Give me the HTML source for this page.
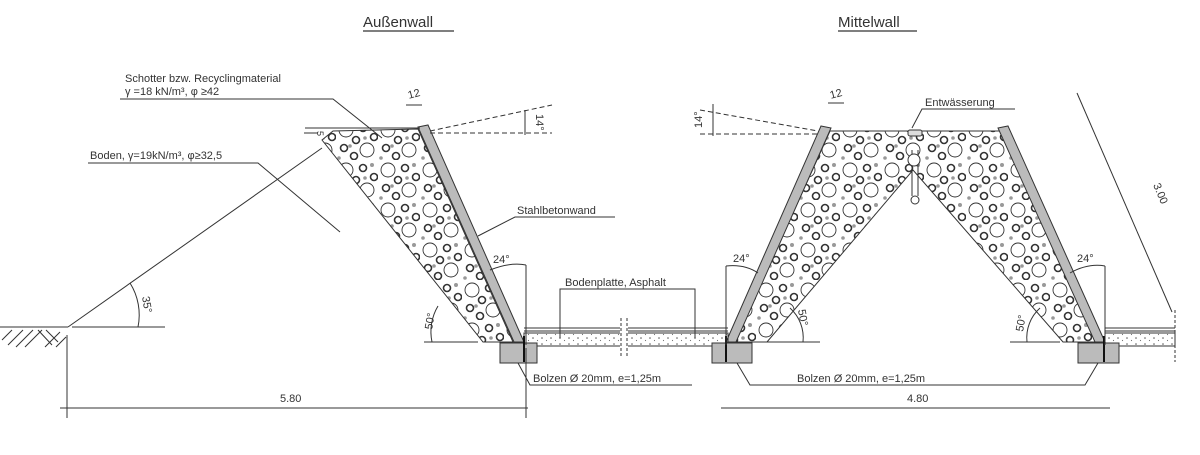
<!DOCTYPE html>
<html><head><meta charset="utf-8"><style>
html,body{margin:0;padding:0;background:#fff;width:1200px;height:455px;overflow:hidden}
svg{display:block}
text{font-family:"Liberation Sans",sans-serif;fill:#333}
.t{font-size:11px}
</style></head><body>
<svg width="1200" height="455" viewBox="0 0 1200 455" xmlns="http://www.w3.org/2000/svg">
<defs>
<pattern id="dots" width="9" height="6" patternUnits="userSpaceOnUse">
<circle cx="2" cy="2" r="0.8" fill="#555"/><circle cx="6.5" cy="4.5" r="0.6" fill="#777"/>
</pattern>
<pattern id="grav" width="42" height="40" patternUnits="userSpaceOnUse">
<g fill="none" stroke="#333">
<circle cx="10" cy="10" r="7" stroke-width="0.9"/>
<circle cx="31" cy="30" r="7" stroke-width="0.9"/>
<circle cx="27" cy="8" r="3.5" stroke-width="1.6"/>
<circle cx="8" cy="28" r="3.5" stroke-width="1.6"/>
<circle cx="20" cy="20" r="3.5" stroke-width="1.6"/>
<circle cx="38" cy="17" r="3.5" stroke-width="1.6"/>
<circle cx="18" cy="36" r="3.5" stroke-width="1.6"/>
</g>
<g fill="#999">
<circle cx="36" cy="5" r="2"/><circle cx="14" cy="26" r="1.8"/><circle cx="29" cy="18" r="1.8"/><circle cx="3" cy="38" r="1.8"/>
</g>
</pattern>
</defs>
<text x="363" y="27" style="font-size:15px">Außenwall</text>
<line x1="363" y1="31" x2="454" y2="31" stroke="#333" stroke-width="1.2"/>
<text x="838" y="27" style="font-size:15px">Mittelwall</text>
<line x1="838" y1="31" x2="917" y2="31" stroke="#333" stroke-width="1.2"/>

<!-- fills -->
<polygon points="322,140 333,131 418,129 513,342 483,342" fill="url(#grav)" stroke="#333" stroke-width="1"/>
<polygon points="830,131 1000,131 1096,342 1063,342 913,170 767,342 735,342" fill="url(#grav)" stroke="#333" stroke-width="1"/>

<!-- walls -->
<polygon points="418,127 428,125 524,342 514,342" fill="#bbb" stroke="#333"/>
<polygon points="821,126 831,128 736,342 726,342" fill="#bbb" stroke="#333"/>
<polygon points="998,128 1008,126 1105,342 1095,342" fill="#bbb" stroke="#333"/>

<!-- slabs -->
<g stroke="#333" fill="none">
<line x1="524" y1="328" x2="728" y2="328"/><line x1="524" y1="331" x2="728" y2="331"/>
<line x1="1105" y1="328" x2="1175" y2="328"/><line x1="1105" y1="331" x2="1175" y2="331"/>
</g>
<rect x="524" y="333" width="204" height="13" fill="url(#dots)" stroke="#333"/>
<rect x="1105" y="333" width="70" height="13" fill="url(#dots)" stroke="#333"/>
<rect x="620" y="318" width="8" height="40" fill="#fff"/>
<g stroke="#333" stroke-dasharray="3,2"><line x1="621" y1="318" x2="621" y2="358"/><line x1="627" y1="318" x2="627" y2="358"/><line x1="1175" y1="310" x2="1175" y2="362"/></g>

<!-- footings -->
<rect x="500" y="343" width="37" height="20" fill="#bbb" stroke="#333"/>
<rect x="712" y="343" width="40" height="20" fill="#bbb" stroke="#333"/>
<rect x="1078" y="343" width="41" height="20" fill="#bbb" stroke="#333"/>
<g stroke="#111" stroke-width="2"><line x1="524" y1="336" x2="524" y2="362"/><line x1="726" y1="336" x2="726" y2="362"/><line x1="1104" y1="336" x2="1104" y2="362"/></g>

<g stroke="#333" fill="none" stroke-width="1">
<line x1="0" y1="327" x2="68" y2="327"/>
<line x1="68" y1="327" x2="322" y2="148"/>
<line x1="72" y1="327" x2="165" y2="327"/>
<path d="M2,340 L12,330 M8,345 L23,330 M16,347 L33,330 M25,347 L42,330 M45,347 L60,332 M56,347 L66,337 M38,330 L52,345 M46,330 L58,342"/>
<path d="M130,283 A60,60 0 0 1 138,327"/>
<line x1="305" y1="128" x2="420" y2="128"/>
<polyline points="120,99 333,99 382,138"/>
<polyline points="88,163 258,163 340,232"/>
<polyline points="615,217 515,217 478,236"/>
<polyline points="695,338 695,289 560,289 560,338"/>
<polyline points="518,363 530,385 692,385"/>
<polyline points="737,363 750,385 1085,385 1098,363"/>
<polyline points="912,128 922,109 1015,109"/>
<g stroke-dasharray="5,3">
<line x1="430" y1="131" x2="552" y2="105"/><line x1="430" y1="133" x2="552" y2="133"/>
<line x1="700" y1="110" x2="818" y2="131"/><line x1="700" y1="134" x2="818" y2="134"/>
</g>
<line x1="525" y1="110" x2="525" y2="135"/>
<line x1="713" y1="104" x2="713" y2="136"/>
<line x1="526" y1="345" x2="526" y2="265"/><path d="M490,270 Q510,262 526,265"/>
<line x1="424" y1="342" x2="478" y2="342"/><path d="M438,306 A50,50 0 0 0 432,342"/>
<line x1="726" y1="345" x2="726" y2="266"/><path d="M726,266 Q745,264 758,273"/>
<line x1="765" y1="342" x2="820" y2="342"/><path d="M790,308 A40,40 0 0 1 803,342"/>
<line x1="1105" y1="345" x2="1105" y2="266"/><path d="M1070,273 Q1088,263 1105,266"/>
<line x1="1010" y1="342" x2="1060" y2="342"/><path d="M1040,308 A40,40 0 0 0 1027,342"/>
<rect x="908" y="130" width="14" height="6" rx="2" fill="#ddd"/>
<line x1="912" y1="150" x2="912" y2="196"/><line x1="918" y1="150" x2="918" y2="196"/>
<circle cx="915" cy="200" r="4" fill="#fff"/><circle cx="914" cy="160" r="6" fill="#fff"/>
<line x1="67" y1="335" x2="67" y2="418"/>
<line x1="60" y1="408" x2="528" y2="408"/>
<line x1="526" y1="348" x2="526" y2="418"/>
<line x1="721" y1="408" x2="1110" y2="408"/>
<line x1="1077" y1="93" x2="1172" y2="312"/>
<line x1="406" y1="105" x2="422" y2="105"/>
<line x1="828" y1="103" x2="844" y2="103"/>
<line x1="304" y1="133" x2="318" y2="133"/>
</g>

<text class="t" x="125" y="82">Schotter bzw. Recyclingmaterial</text>
<text class="t" x="125" y="95">γ =18 kN/m³, φ ≥42</text>
<text class="t" x="90" y="159">Boden, γ=19kN/m³, φ≥32,5</text>
<text class="t" x="517" y="214">Stahlbetonwand</text>
<text class="t" x="565" y="286">Bodenplatte, Asphalt</text>
<text class="t" x="533" y="382">Bolzen Ø 20mm, e=1,25m</text>
<text class="t" x="797" y="382">Bolzen Ø 20mm, e=1,25m</text>
<text class="t" x="925" y="106">Entwässerung</text>
<text class="t" x="493" y="263">24°</text>
<text class="t" x="733" y="262">24°</text>
<text class="t" x="1077" y="262">24°</text>
<text class="t" x="280" y="402">5.80</text>
<text class="t" x="907" y="402">4.80</text>
<text class="t" x="408" y="98" transform="rotate(-15 412 95)">12</text>
<text class="t" x="830" y="98" transform="rotate(-15 834 95)">12</text>
<text class="t" transform="translate(536,114) rotate(90)">14°</text>
<text class="t" transform="translate(702,128) rotate(-90)">14°</text>
<text class="t" transform="translate(142,297) rotate(80)">35°</text>
<text class="t" transform="translate(432,330) rotate(-80)">50°</text>
<text class="t" transform="translate(798,310) rotate(80)">50°</text>
<text class="t" transform="translate(1023,332) rotate(-80)">50°</text>
<text class="t" transform="translate(1153,185) rotate(67)">3.00</text>
<text class="t" transform="translate(317,131) rotate(90)" style="font-size:9px">5</text>
</svg>
</body></html>
